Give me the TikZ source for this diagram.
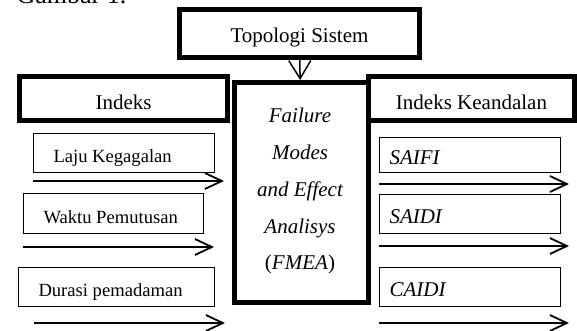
\documentclass[tikz,border=0pt]{standalone}
\usepackage{fontspec}
\setmainfont{Liberation Serif}
\usetikzlibrary{arrows.meta}

\tikzset{
    heavybox/.style={draw, line width=5pt, inner sep=0pt, text height=19pt, text depth=0pt},
    lightbox/.style={draw, line width=1.2pt, inner ysep=0pt, align=flush left, text height=19pt, text depth=0pt},
    inputbox/.style={lightbox, inner xsep=20pt, font=\fontsize{18.6}{22}\selectfont},
    outputbox/.style={lightbox, inner xsep=10pt, text width=161pt, font=\fontsize{21}{25}\selectfont\itshape},
    feed/.style={line width=1.8pt, -{Straight Barb[length=17pt, width=16pt, line width=1.8pt]}}
}

\begin{document}
\begin{tikzpicture}[x=1pt, y=-1pt, every node/.style={font=\fontsize{21}{25}\selectfont}]

    \useasboundingbox (0,0) rectangle (577,331);
    \clip (0,0) rectangle (577,331);

    % caption cut by the top edge
    \node[anchor=base west, font=\fontsize{26}{30}\selectfont] (caption) at (13,4) {Gambar 1.};

    % main blocks
    \node[heavybox, minimum width=240pt, minimum height=48pt] (topologi) at (299.5,33.5) {Topologi Sistem};
    \node[heavybox, minimum width=208pt, minimum height=44pt, text height=23pt] (indeks) at (123.5,98.5) {Indeks};
    \node[heavybox, minimum width=206pt, minimum height=44pt, text height=23pt] (keandalan) at (471.5,98.5) {Indeks Keandalan};
    \node[heavybox, minimum width=134pt, minimum height=220pt] (fmea) at (301.5,192.5) {};

    \foreach \txt [count=\i] in {Failure, Modes, and Effect, Analisys, {\textup{(}FMEA\textup{)}}}
        \node[anchor=base, font=\fontsize{21}{25}\selectfont\itshape] (fmea-\i) at (300,{122.3+36.9*(\i-1)}) {\txt};

    \draw[line width=1.5pt, -{Straight Barb[length=18pt, width=22pt, line width=1.5pt]}] (topologi) -- (fmea);

    % input parameters
    \node[inputbox, text width=141pt, minimum height=39pt] (laju) at (124,153) {Laju Kegagalan};
    \node[inputbox, text width=140pt, minimum height=40pt] (waktu) at (113.5,213.5) {Waktu Pemutusan};
    \node[inputbox, text width=156pt, minimum height=39pt] (durasi) at (116.5,287) {Durasi pemadaman};

    \coordinate (laju-a) at (33,181);
    \coordinate (laju-b) at (224,181);
    \coordinate (waktu-a) at (23,247);
    \coordinate (waktu-b) at (214,247);
    \coordinate (durasi-a) at (34,323);
    \coordinate (durasi-b) at (225,323);

    \draw[feed] (laju-a) -- (laju-b);
    \draw[feed] (waktu-a) -- (waktu-b);
    \draw[feed] (durasi-a) -- (durasi-b);

    % output indices
    \node[outputbox, minimum height=35pt] (saifi) at (470,155) {SAIFI};
    \node[outputbox, minimum height=39pt] (saidi) at (470,214) {SAIDI};
    \node[outputbox, minimum height=39pt] (caidi) at (470,287) {CAIDI};

    \coordinate (saifi-a) at (379,184);
    \coordinate (saifi-b) at (569,184);
    \coordinate (saidi-a) at (379,246);
    \coordinate (saidi-b) at (569,246);
    \coordinate (caidi-a) at (379,323);
    \coordinate (caidi-b) at (569,323);

    \draw[feed] (saifi-a) -- (saifi-b);
    \draw[feed] (saidi-a) -- (saidi-b);
    \draw[feed] (caidi-a) -- (caidi-b);

\end{tikzpicture}
\end{document}
